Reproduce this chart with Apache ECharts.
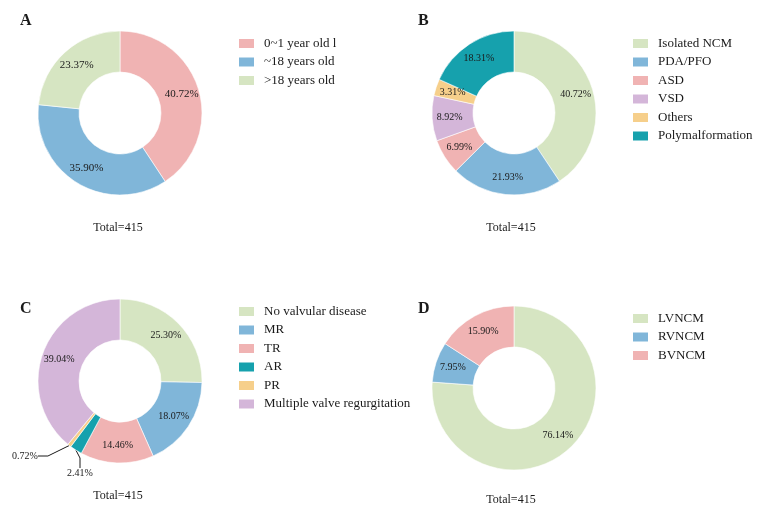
<!DOCTYPE html>
<html><head><meta charset="utf-8">
<script src="https://cdn.jsdelivr.net/npm/echarts@6/dist/echarts.min.js"></script>
<style>html,body{margin:0;padding:0;background:#fff}#c{width:766px;height:521px}</style>
</head><body><div id="c"></div>
<script>
const catsA = ['0~1 year old l', '~18 years old', '>18 years old'];
const valsA = [40.72, 35.90, 23.37];
const catsB = ['Isolated NCM', 'PDA/PFO', 'ASD', 'VSD', 'Others', 'Polymalformation'];
const valsB = [40.72, 21.93, 6.99, 8.92, 3.31, 18.31];
const catsC = ['No valvular disease', 'MR', 'TR', 'AR', 'PR', 'Multiple valve regurgitation'];
const valsC = [25.30, 18.07, 14.46, 2.41, 0.72, 39.04];
const catsD = ['LVNCM', 'RVNCM', 'BVNCM'];
const valsD = [76.14, 7.95, 15.90];
const panelTitles = ['A', 'B', 'C', 'D'];
const totalText = 'Total=415';

const PINK = '#f0b3b3', BLUE = '#80b6d9', GREEN = '#d6e5c2', TEAL = '#16a1ad', ORANGE = '#f6cf8b', PURPLE = '#d4b6d9';
const colA = [PINK, BLUE, GREEN];
const colB = [GREEN, BLUE, PINK, PURPLE, ORANGE, TEAL];
const colC = [GREEN, BLUE, PINK, TEAL, ORANGE, PURPLE];
const colD = [GREEN, BLUE, PINK];
const FONT = '"Liberation Serif", "Times New Roman", serif';

function mk(cats, vals, cols, extra) {
  return cats.map((n, i) => {
    const o = { name: n, value: vals[i], itemStyle: { color: cols[i] } };
    if (extra && extra[i]) Object.assign(o, extra[i]);
    return o;
  });
}
function pie(center, data, fs) {
  return {
    type: 'pie', center: center, radius: [41, 82], startAngle: 90, clockwise: true,
    avoidLabelOverlap: false, silent: true,
    itemStyle: { borderColor: '#fff', borderWidth: 0.6 },
    label: { show: true, position: 'inside', formatter: p => p.value.toFixed(2) + '%',
             fontFamily: FONT, fontSize: fs, color: '#1a1a1a' },
    labelLine: { show: false },
    data: data
  };
}
function legend(cats, left, top) {
  return { data: cats, orient: 'vertical', left: left, top: top, icon: 'rect',
    itemWidth: 17, itemHeight: 11, itemGap: 5.5, selectedMode: false,
    textStyle: { fontFamily: FONT, fontSize: 13, color: '#1a1a1a', padding: [0, 0, 0, 4] } };
}
const outsideLbl = {
  label: { position: 'outside', fontSize: 10, color: '#1a1a1a', fontFamily: FONT, distanceToLabelLine: 0 },
  labelLine: { show: true, length: 10, length2: 10, lineStyle: { color: '#1a1a1a', width: 1 } }
};

const chart = echarts.init(document.getElementById('c'));
const seriesC = pie([120, 381], mk(catsC, valsC, colC, {3: outsideLbl, 4: outsideLbl}), 10);
seriesC.labelLayout = function (p) {
  if (p.dataIndex === 3) return { x: 80, y: 473, align: 'center', verticalAlign: 'middle' };
  if (p.dataIndex === 4) return { x: 25, y: 456, align: 'center', verticalAlign: 'middle' };
  return {};
};
chart.setOption({
  animation: false,
  title: [
    { text: panelTitles[0], left: 15, top: 8 },
    { text: panelTitles[1], left: 413, top: 8 },
    { text: panelTitles[2], left: 15, top: 296 },
    { text: panelTitles[3], left: 413, top: 296 }
  ].map(t => Object.assign(t, { textStyle: { fontFamily: FONT, fontSize: 16, fontWeight: 'bold', color: '#1a1a1a' } })),
  legend: [
    legend(catsA, 232, 32),
    legend(catsB, 626, 32),
    legend(catsC, 232, 300),
    legend(catsD, 626, 307)
  ],
  graphic: [
    [118, 228], [511, 228], [118, 496], [511, 500]
  ].map(p => ({ type: 'text', x: p[0], y: p[1],
     style: { text: totalText, textAlign: 'center', textVerticalAlign: 'middle',
              font: '12px ' + FONT, fill: '#1a1a1a' } })),
  series: [
    pie([120, 113], mk(catsA, valsA, colA), 11),
    pie([514, 113], mk(catsB, valsB, colB), 10),
    seriesC,
    pie([514, 388], mk(catsD, valsD, colD), 10)
  ]
});
</script></body></html>
